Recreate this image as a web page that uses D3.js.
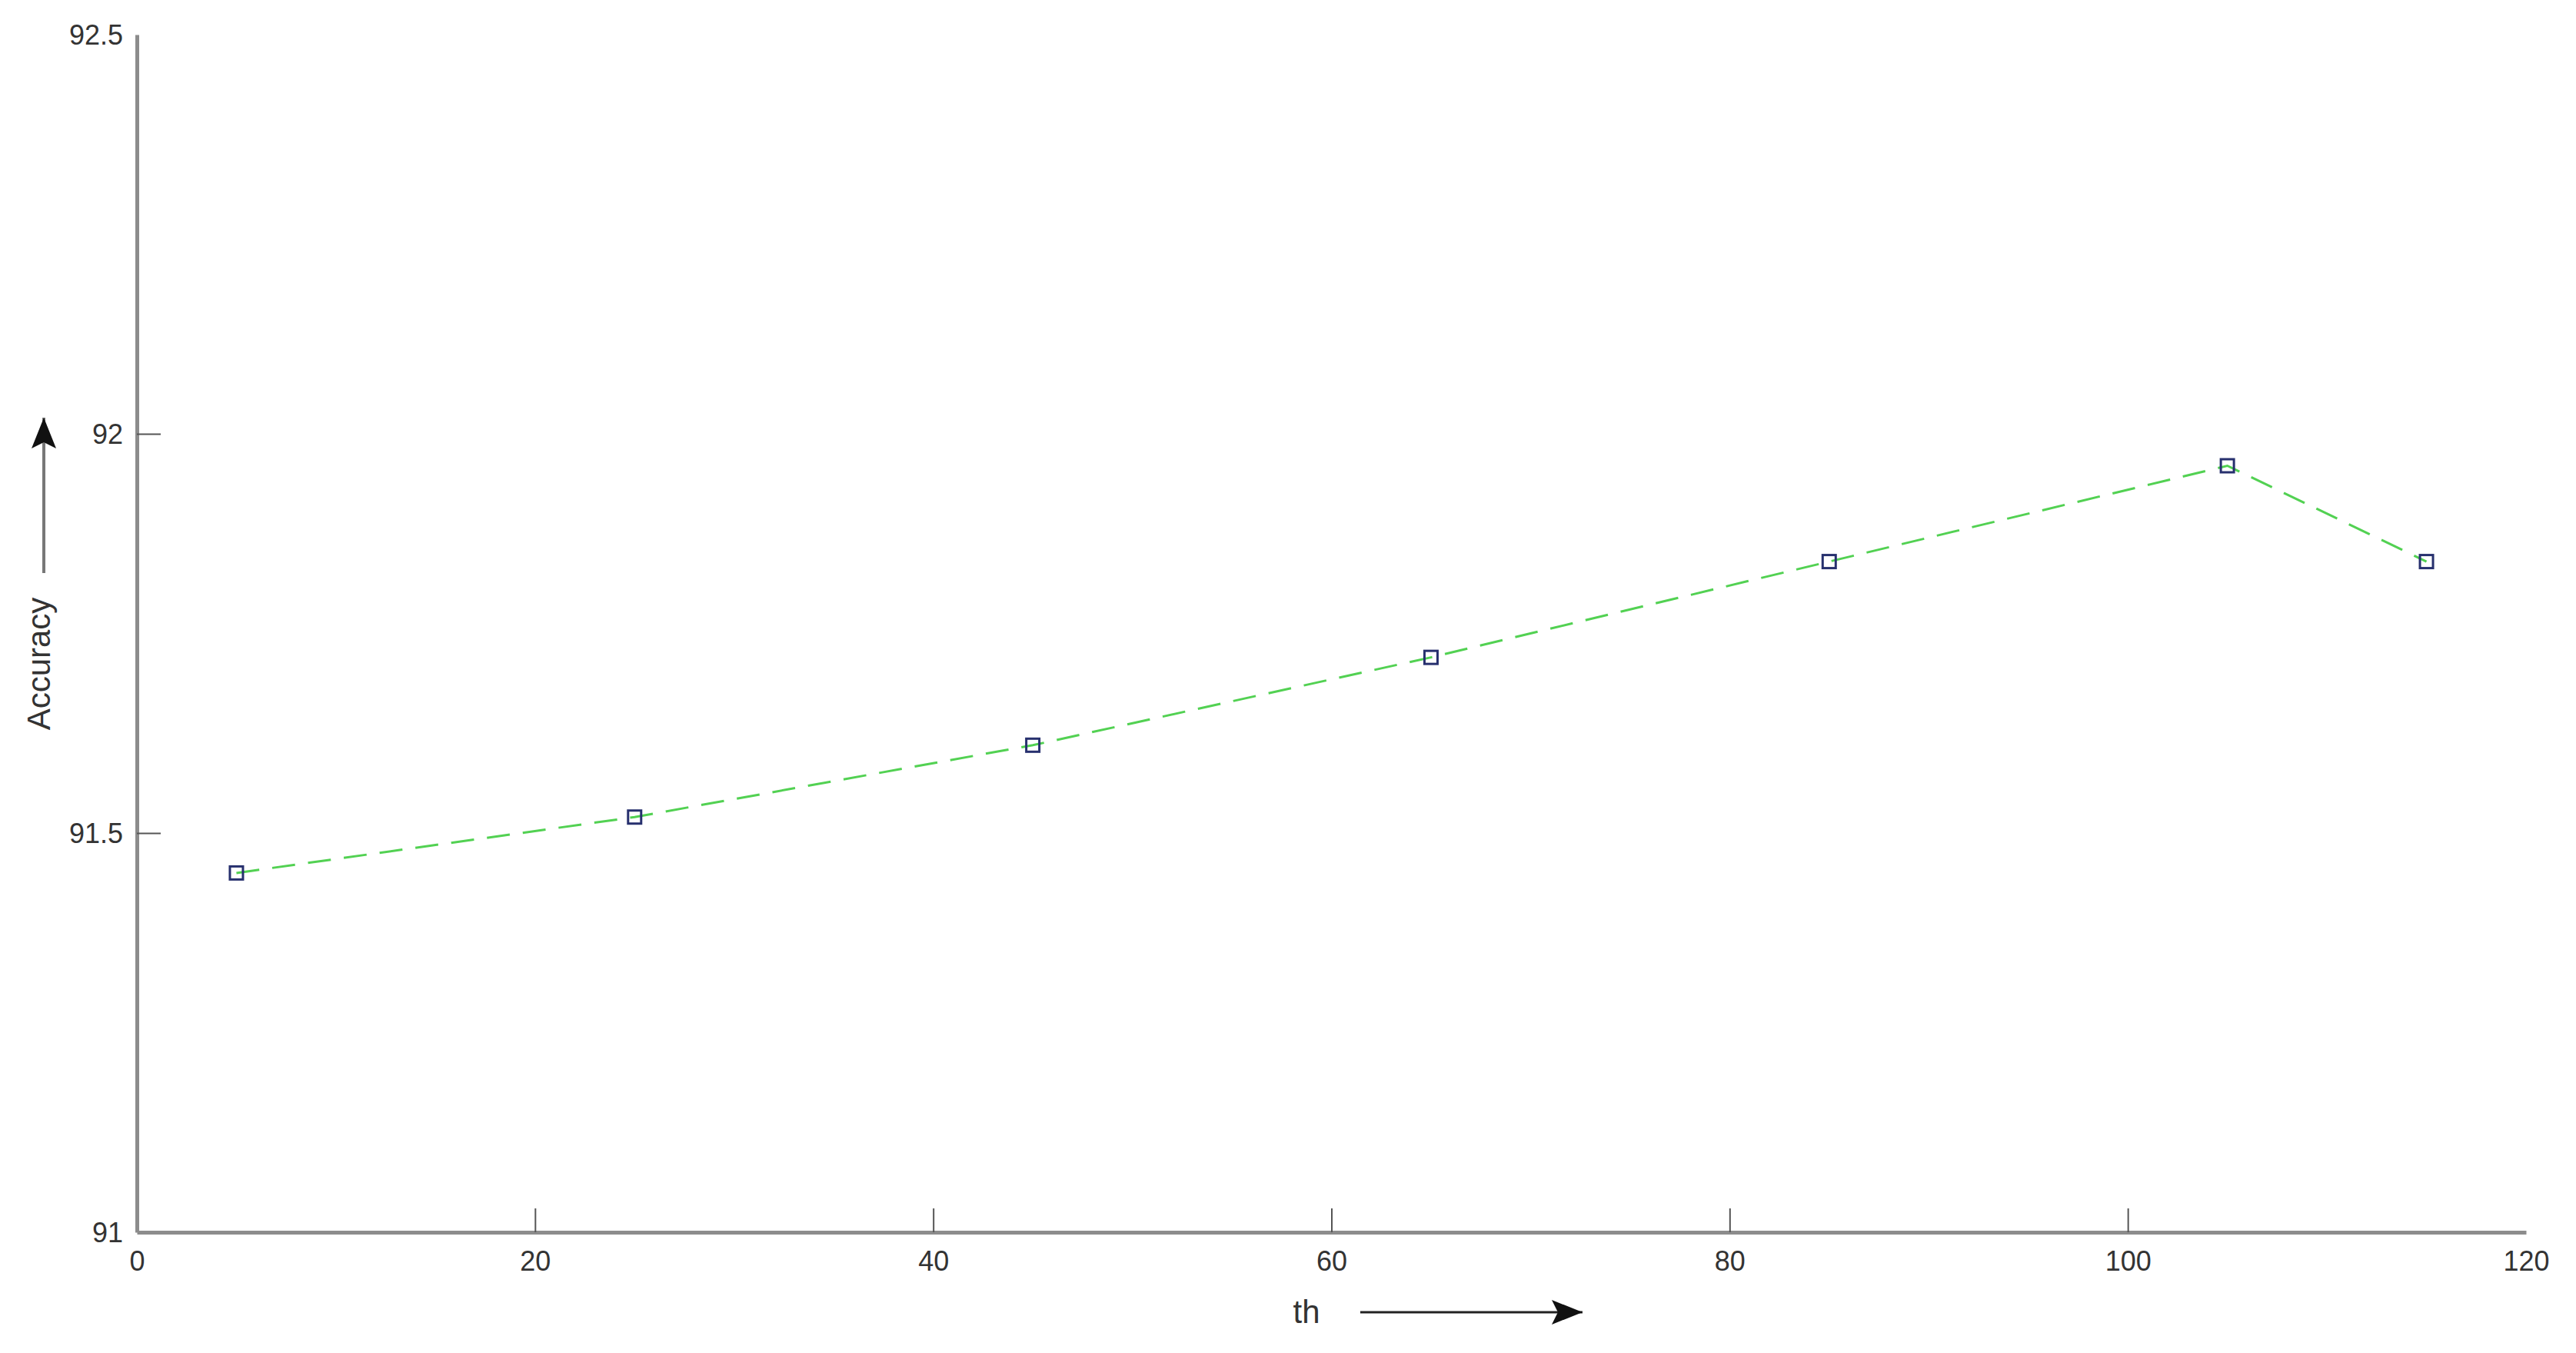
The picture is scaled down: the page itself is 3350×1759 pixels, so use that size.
<!DOCTYPE html>
<html>
<head>
<meta charset="utf-8">
<script src="https://cdn.jsdelivr.net/npm/d3@7"></script>
<style>
  body { margin: 0; background: #fff; }
  text { font-family: "Liberation Sans", Arial, sans-serif; fill: #333; }
</style>
</head>
<body>
<svg id="chart"></svg>
<script>
// values
var thValues = [5, 25, 45, 65, 85, 105, 115];
var accuracyValues = [91.45, 91.52, 91.61, 91.72, 91.84, 91.96, 91.84];
var xTicks = [0, 20, 40, 60, 80, 100, 120];
var yTicks = [91, 91.5, 92, 92.5];
var xLabel = "th";
var yLabel = "Accuracy";

var dimensions = {
    width: 3350,
    height: 1759,
    margin: { top: 45, bottom: 157, left: 178, right: 65 }
}

var svg = d3.select("#chart")
    .attr("width", dimensions.width)
    .attr("height", dimensions.height);

svg.append("rect")
    .attr("width", dimensions.width)
    .attr("height", dimensions.height)
    .attr("fill", "#fff");

var xScale = d3.scaleLinear()
    .domain([0, 120])
    .range([dimensions.margin.left, dimensions.width - dimensions.margin.right]);

var yScale = d3.scaleLinear()
    .domain([91, 92.5])
    .range([dimensions.height - dimensions.margin.bottom, dimensions.margin.top]);

var data = thValues.map((d, i) => ({ x: d, y: accuracyValues[i] }));

// axes, ticks pointing inward like matlab
var xAxis = svg.append("g")
    .attr("transform", `translate(0,${yScale(91)})`)
    .call(d3.axisBottom(xScale).tickValues(xTicks).tickSizeInner(-31).tickSizeOuter(0).tickPadding(24).tickFormat(d3.format("d")));

var yAxis = svg.append("g")
    .attr("transform", `translate(${xScale(0)},0)`)
    .call(d3.axisLeft(yScale).tickValues(yTicks).tickSizeInner(-31).tickSizeOuter(0).tickPadding(18).tickFormat(d => d));

[xAxis, yAxis].forEach(ax => {
    ax.select(".domain").attr("stroke", "#8c8c8c").attr("stroke-width", 5);
    ax.selectAll(".tick line").attr("stroke", "#555").attr("stroke-width", 2);
    ax.selectAll(".tick text")
        .style("font-size", "36px")
        .attr("fill", "#333");
});
// no tick lines at the axis ends
xAxis.selectAll(".tick").filter(d => d === 0 || d === 120).select("line").remove();
yAxis.selectAll(".tick").filter(d => d === 91 || d === 92.5).select("line").remove();
yAxis.selectAll(".tick text").attr("dy", "0.36em");

// dashed green line
var line = d3.line()
    .x(d => xScale(d.x))
    .y(d => yScale(d.y));

svg.append("path")
    .datum(data)
    .attr("d", line)
    .attr("fill", "none")
    .attr("stroke", "#52d152")
    .attr("stroke-width", 3)
    .attr("stroke-dasharray", "30,17");

// square markers
var markerSize = 17;
svg.append("g")
    .selectAll("rect")
    .data(data)
    .enter()
    .append("rect")
    .attr("x", d => xScale(d.x) - markerSize / 2)
    .attr("y", d => yScale(d.y) - markerSize / 2)
    .attr("width", markerSize)
    .attr("height", markerSize)
    .attr("fill", "none")
    .attr("stroke", "#27306e")
    .attr("stroke-width", 3);

// arrow head marker
svg.append("defs").append("marker")
    .attr("id", "arrow")
    .attr("viewBox", "0 0 40 32")
    .attr("refX", 40)
    .attr("refY", 16)
    .attr("markerWidth", 40)
    .attr("markerHeight", 32)
    .attr("markerUnits", "userSpaceOnUse")
    .attr("orient", "auto")
    .append("path")
    .attr("d", "M0,0 L40,16 L0,32 L8,16 Z")
    .attr("fill", "#111");

// x label with arrow
svg.append("text")
    .attr("x", 1699)
    .attr("y", 1705)
    .attr("dy", "0.35em")
    .attr("text-anchor", "middle")
    .style("font-size", "42px")
    .text(xLabel);

svg.append("line")
    .attr("x1", 1769)
    .attr("x2", 2058)
    .attr("y1", 1706)
    .attr("y2", 1706)
    .attr("stroke", "#222")
    .attr("stroke-width", 3)
    .attr("marker-end", "url(#arrow)");

// y label with arrow
svg.append("text")
    .attr("transform", "translate(50,863) rotate(-90)")
    .attr("dy", "0.35em")
    .attr("text-anchor", "middle")
    .style("font-size", "42px")
    .text(yLabel);

svg.append("line")
    .attr("x1", 57)
    .attr("x2", 57)
    .attr("y1", 745)
    .attr("y2", 543)
    .attr("stroke", "#777")
    .attr("stroke-width", 4)
    .attr("marker-end", "url(#arrow)");
</script>
</body>
</html>
